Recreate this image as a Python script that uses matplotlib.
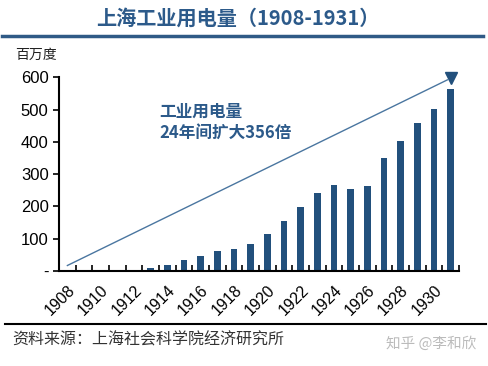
import numpy as np
import matplotlib.pyplot as plt

years = list(range(1908, 1932))
usage = [1.6, 2, 2.5, 3, 4, 8, 18, 33, 45, 61, 67, 84, 116, 155,
         198, 242, 267, 254, 263, 350, 403, 458, 501, 565]
yticks = [0, 100, 200, 300, 400, 500, 600]
ytick_labels = ['-', '100', '200', '300', '400', '500', '600']

bar_color = '#22507c'
text_blue = '#2c5a8a'
cjk = ['Noto Sans CJK SC', 'DejaVu Sans']
num_font = ['Liberation Sans', 'DejaVu Sans']

fig = plt.figure(figsize=(4.88, 3.66), dpi=100)
ax = fig.add_axes([0.121, 0.2596, 0.8196, 0.5292])

x = np.arange(len(years))
ax.bar(x, usage, width=0.4, color=bar_color)
ax.set_xlim(-0.5, len(years) - 0.5)
ax.set_ylim(0, 600)

# trend arrow
ax.plot([0, 22.8], [17, 592], color='#4a76a0', lw=1.0, clip_on=False)
ax.plot([23.0], [598], marker='v', color=bar_color, ms=8, clip_on=False)

ax.text(5.5, 520, '工业用电量\n24年间扩大356倍', color=text_blue, fontsize=12,
        fontweight='bold', family=cjk, va='top', linespacing=1.2)

for s in ['top', 'right']:
    ax.spines[s].set_visible(False)
for s in ['left', 'bottom']:
    ax.spines[s].set_linewidth(1.5)

ax.set_yticks(yticks)
ax.set_yticklabels(ytick_labels, family=num_font, fontsize=12)
ax.tick_params(axis='y', direction='out', length=4, width=1.2)

ax.set_xticks(x[::2])
ax.set_xticklabels([str(y) for y in years[::2]], rotation=45, ha='right',
                   va='top', rotation_mode='anchor', family=num_font, fontsize=11.5)
ax.tick_params(axis='x', which='major', length=0, pad=8)
ax.set_xticks(np.arange(-0.5, len(years)), minor=True)
ax.tick_params(axis='x', which='minor', direction='in', length=4, width=1.2)

fig.text(0.487, 0.951, '上海工业用电量（1908-1931）', ha='center', va='center',
         fontsize=14.5, fontweight='bold', color=text_blue, family=cjk)
fig.add_artist(plt.Line2D([0.005, 0.99], [0.902, 0.902], color='#2f5a86', lw=2.5))
fig.text(0.031, 0.85, '百万度', ha='left', va='center', fontsize=10,
         color='#222222', family=cjk)

fig.add_artist(plt.Line2D([0.01, 0.995], [0.115, 0.115], color='black', lw=1.5))
fig.text(0.025, 0.072, '资料来源：上海社会科学院经济研究所', ha='left', va='center',
         fontsize=11.5, color='#333333', family=cjk)
fig.text(0.79, 0.062, '知乎 @李和欣', ha='left', va='center', fontsize=10.5,
         color='#bbbbbb', family=cjk)

fig.savefig('out.png', dpi=100)
